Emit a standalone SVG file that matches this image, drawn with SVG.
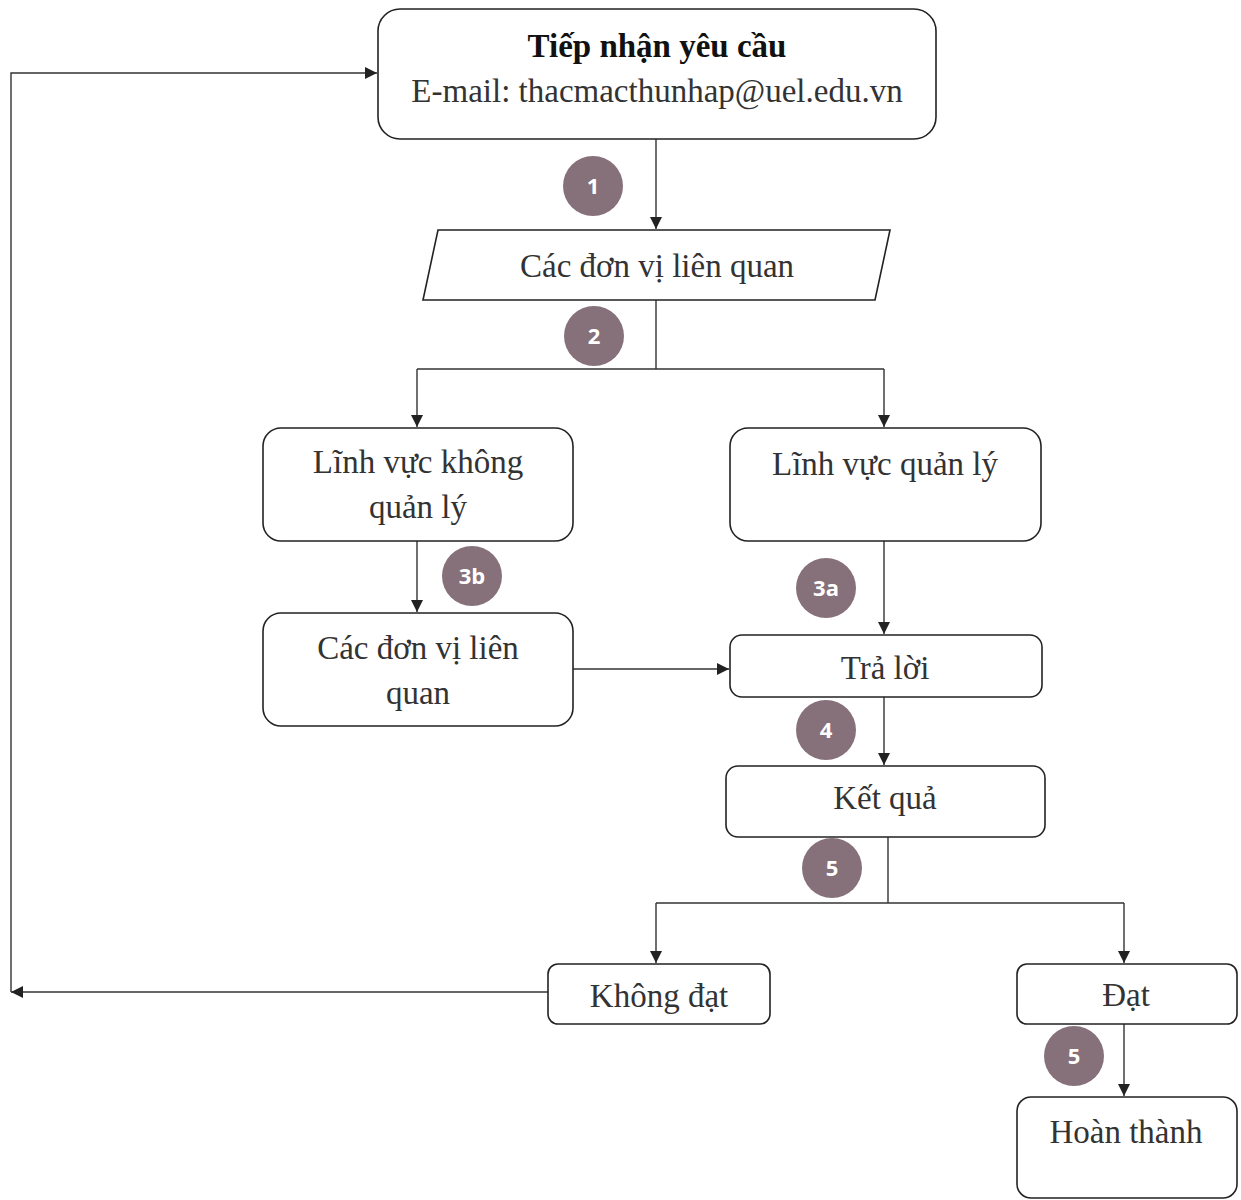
<svg xmlns="http://www.w3.org/2000/svg" width="1241" height="1200" viewBox="0 0 1241 1200">
<defs>
<style>
.box{fill:#fff;stroke:#222;stroke-width:1.6}
.t{font-family:"Liberation Serif","Times New Roman",serif;font-size:33px;fill:#333;text-anchor:middle}
.tb{font-family:"Liberation Serif","Times New Roman",serif;font-size:33px;font-weight:bold;fill:#111;text-anchor:middle}
.c{fill:#86707a}
.n{font-family:"Open Sans","DejaVu Sans",sans-serif;font-size:22px;font-weight:bold;fill:#fff;text-anchor:middle}
.ln{fill:none;stroke:#333;stroke-width:1.4}
</style>
<marker id="ah" viewBox="0 0 10 10" refX="10" refY="5" markerWidth="13" markerHeight="12" markerUnits="userSpaceOnUse" orient="auto">
<path d="M0,0 L10,5 L0,10 z" fill="#222"/>
</marker>
</defs>
<rect width="1241" height="1200" fill="#fff"/>
<g id="connectors">
<path class="ln" d="M656,139 V229" marker-end="url(#ah)"/>
<path class="ln" d="M656,300 V369"/>
<path class="ln" d="M417,369 H884"/>
<path class="ln" d="M417,369 V427" marker-end="url(#ah)"/>
<path class="ln" d="M884,369 V427" marker-end="url(#ah)"/>
<path class="ln" d="M417,541 V612" marker-end="url(#ah)"/>
<path class="ln" d="M884,541 V634" marker-end="url(#ah)"/>
<path class="ln" d="M573,669 H729" marker-end="url(#ah)"/>
<path class="ln" d="M884,697 V765" marker-end="url(#ah)"/>
<path class="ln" d="M888,837 V903"/>
<path class="ln" d="M656,903 H1124"/>
<path class="ln" d="M656,903 V963" marker-end="url(#ah)"/>
<path class="ln" d="M1124,903 V963" marker-end="url(#ah)"/>
<path class="ln" d="M1124,1024 V1096" marker-end="url(#ah)"/>
<path class="ln" d="M548,992 H11" marker-end="url(#ah)"/>
<path class="ln" d="M11,992 V73 H377" marker-end="url(#ah)"/>
</g>
<g id="n-tiepnhan">
<rect class="box" x="378" y="9" width="558" height="130" rx="22"/>
<text class="tb" x="657" y="57">Tiếp nhận yêu cầu</text>
<text class="t" x="657" y="102">E-mail: thacmacthunhap@uel.edu.vn</text>
</g>
<g id="s1"><circle class="c" cx="593" cy="186" r="30"/><text class="n" x="593" y="194">1</text></g>
<g id="n-donvi1">
<polygon class="box" points="438,230 890,230 875,300 423,300"/>
<text class="t" x="657" y="277">Các đơn vị liên quan</text>
</g>
<g id="s2"><circle class="c" cx="594" cy="336" r="30"/><text class="n" x="594" y="344">2</text></g>
<g id="n-khongquanly">
<rect class="box" x="263" y="428" width="310" height="113" rx="18"/>
<text class="t" x="418" y="473">Lĩnh vực không</text>
<text class="t" x="418" y="518">quản lý</text>
</g>
<g id="n-quanly">
<rect class="box" x="730" y="428" width="311" height="113" rx="18"/>
<text class="t" x="885" y="475">Lĩnh vực quản lý</text>
</g>
<g id="s3b"><circle class="c" cx="472" cy="576" r="30"/><text class="n" x="472" y="584">3b</text></g>
<g id="s3a"><circle class="c" cx="826" cy="588" r="30"/><text class="n" x="826" y="596">3a</text></g>
<g id="n-donvi2">
<rect class="box" x="263" y="613" width="310" height="113" rx="18"/>
<text class="t" x="418" y="659">Các đơn vị liên</text>
<text class="t" x="418" y="704">quan</text>
</g>
<g id="n-traloi">
<rect class="box" x="730" y="635" width="312" height="62" rx="12"/>
<text class="t" x="885" y="679">Trả lời</text>
</g>
<g id="s4"><circle class="c" cx="826" cy="730" r="30"/><text class="n" x="826" y="738">4</text></g>
<g id="n-ketqua">
<rect class="box" x="726" y="766" width="319" height="71" rx="12"/>
<text class="t" x="885" y="809">Kết quả</text>
</g>
<g id="s5a"><circle class="c" cx="832" cy="868" r="30"/><text class="n" x="832" y="876">5</text></g>
<g id="n-khongdat">
<rect class="box" x="548" y="964" width="222" height="60" rx="10"/>
<text class="t" x="659" y="1007">Không đạt</text>
</g>
<g id="n-dat">
<rect class="box" x="1017" y="964" width="220" height="60" rx="10"/>
<text class="t" x="1126" y="1006">Đạt</text>
</g>
<g id="s5b"><circle class="c" cx="1074" cy="1056" r="30"/><text class="n" x="1074" y="1064">5</text></g>
<g id="n-hoanthanh">
<rect class="box" x="1017" y="1097" width="220" height="101" rx="14"/>
<text class="t" x="1126" y="1143">Hoàn thành</text>
</g>
</svg>
